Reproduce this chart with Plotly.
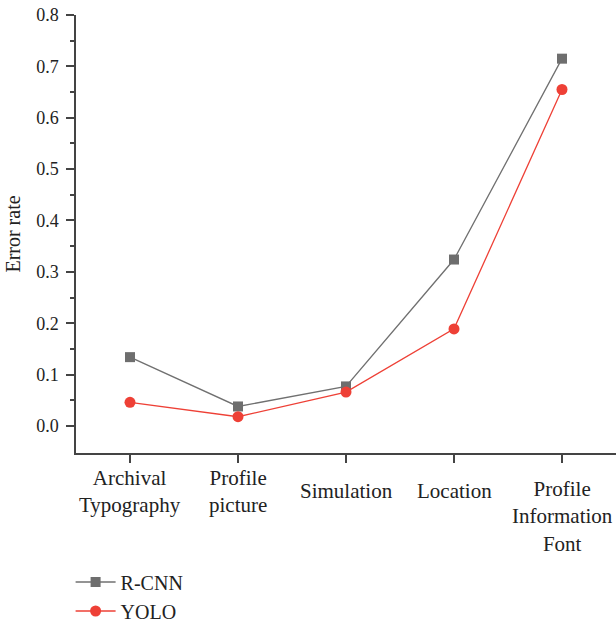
import plotly.graph_objects as go

categories = ["Archival Typography", "Profile picture", "Simulation", "Location", "Profile Information Font"]
cat_labels = ["Archival<br>Typography", "Profile<br>picture", "Simulation", "Location", "Profile<br>Information<br>Font"]
rcnn = [0.134, 0.038, 0.077, 0.324, 0.715]
yolo = [0.046, 0.018, 0.066, 0.189, 0.655]
y_ticks = [0.0, 0.1, 0.2, 0.3, 0.4, 0.5, 0.6, 0.7, 0.8]

FONT = "Liberation Serif"
AX = "#444444"

fig = go.Figure()
fig.add_trace(go.Scatter(x=categories, y=rcnn, name="R-CNN", mode="lines+markers",
                         line=dict(color="#707070", width=1.3),
                         marker=dict(symbol="square", size=10, color="#6e6e6e")))
fig.add_trace(go.Scatter(x=categories, y=yolo, name="YOLO", mode="lines+markers",
                         line=dict(color="#ee4036", width=1.3),
                         marker=dict(symbol="circle", size=11, color="#ee4036")))

for c, lab in zip(categories, cat_labels):
    n = lab.count("<br>") + 1
    fig.add_annotation(x=c, xref="x", y=0, yref="paper", text=lab, showarrow=False,
                       yanchor="middle", yshift=-38 if n < 3 else -63,
                       font=dict(family=FONT, size=21, color="#222222"))

fig.update_layout(
    width=616, height=622,
    margin=dict(l=76, r=0, t=15, b=169, autoexpand=False),
    plot_bgcolor="white", paper_bgcolor="white",
    font=dict(family=FONT, size=20, color="#222222"),
    showlegend=True,
    legend=dict(x=-0.01, y=-0.25, xanchor="left", yanchor="top", font=dict(family=FONT, size=20),
                itemwidth=40, tracegroupgap=0, bgcolor="rgba(0,0,0,0)"),
    xaxis=dict(type="category", range=[-0.5, 4.5], showticklabels=False,
               showline=True, linecolor=AX, linewidth=1.5, ticks="outside",
               ticklen=8, tickwidth=1.5, tickcolor=AX, showgrid=False, zeroline=False,
               minor=dict(ticks="outside", ticklen=4, tickwidth=1.5, tickcolor=AX)),
    yaxis=dict(range=[-0.0526, 0.8], tickvals=y_ticks, ticktext=[f"{v:.1f}" for v in y_ticks],
               showline=True, linecolor=AX, linewidth=1.5, ticks="outside",
               ticklen=8, tickwidth=1.5, tickcolor=AX, showgrid=False, zeroline=False,
               ticklabelstandoff=4,
               tickfont=dict(family=FONT, size=18, color="#222222"),
               minor=dict(tickvals=[v + 0.05 for v in y_ticks[:-1]], ticks="outside", ticklen=4,
                          tickwidth=1.5, tickcolor=AX),
               title=dict(text="Error rate", font=dict(family=FONT, size=20), standoff=10)),
)
fig.write_html("out.html", config={"displayModeBar": False},
               post_script="document.body.style.margin='0';")
